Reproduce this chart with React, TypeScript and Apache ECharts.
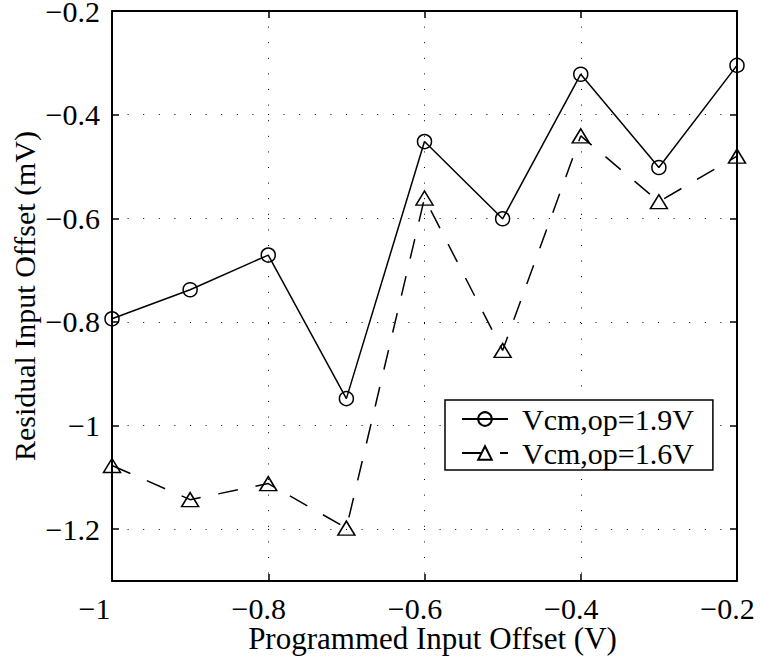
import React, { useEffect, useRef } from "react";
import * as echarts from "echarts";

// Programmed offset (V) and the residual offset (mV) measured at two common-mode levels
const programmedOffset = [-1, -0.9, -0.8, -0.7, -0.6, -0.5, -0.4, -0.3, -0.2];
const residualVcm19 = [-0.794, -0.738, -0.671, -0.948, -0.452, -0.601, -0.322, -0.502, -0.305];
const residualVcm16 = [-1.077, -1.143, -1.112, -1.198, -0.561, -0.855, -0.441, -0.568, -0.48];

const seriesNames = ["Vcm,op=1.9V", "Vcm,op=1.6V"];
const xTicks = [-1, -0.8, -0.6, -0.4, -0.2];
const yTicks = [-1.2, -1, -0.8, -0.6, -0.4, -0.2];

const FONT = "Liberation Serif";

const fmt = (v: number) => {
  const s = String(Math.round(v * 10) / 10);
  return s.replace("-", "\u2212");
};

export default function App() {
  const ref = useRef<HTMLDivElement>(null);

  useEffect(() => {
    if (!ref.current) return;
    const chart = echarts.init(ref.current, undefined, { renderer: "svg" });

    const dotted = { color: "#000", width: 1, type: [1, 14.6] as number[] };
    const frame = { show: true, lineStyle: { color: "#000", width: 2 } };
    const tick = {
      show: true,
      inside: true,
      length: 7,
      lineStyle: { color: "#000", width: 1.5 },
    };

    const xBase = { type: "value" as const, min: -1, max: -0.2, interval: 0.2 };
    const yBase = { type: "value" as const, min: -1.3, max: -0.2, interval: 0.1 };
    const xTickOpt = { ...tick, customValues: xTicks };
    const yTickOpt = { ...tick, customValues: yTicks };

    chart.setOption({
      animation: false,
      backgroundColor: "#fff",
      textStyle: { fontFamily: FONT },
      grid: {
        left: 112,
        right: 23,
        top: 11,
        bottom: 78,
        containLabel: false,
        outerBoundsMode: "none",
      },
      xAxis: [
        {
          ...xBase,
          position: "bottom",
          name: "Programmed Input Offset (V)",
          nameLocation: "middle",
          nameGap: 44,
          nameMoveOverlap: false,
          nameTextStyle: {
            fontSize: 31,
            lineHeight: 26,
            fontFamily: FONT,
            color: "#000",
            padding: [0, 0, 0, 16],
          },
          axisLine: frame,
          axisTick: xTickOpt,
          splitLine: { show: true, lineStyle: dotted },
          axisLabel: {
            fontSize: 30,
            lineHeight: 22,
            fontFamily: FONT,
            color: "#000",
            margin: 16,
            customValues: xTicks,
            formatter: (v: number) =>
              Math.abs(v + 1) < 1e-6 ? "{w|" + fmt(v) + "}" : "{n|" + fmt(v) + "}",
            rich: {
              n: {
                fontSize: 30,
                lineHeight: 22,
                fontFamily: FONT,
                color: "#000",
                padding: [0, 19, 0, 0],
              },
              w: {
                fontSize: 30,
                lineHeight: 22,
                fontFamily: FONT,
                color: "#000",
                padding: [0, 35, 0, 0],
              },
            },
          },
        },
        {
          ...xBase,
          position: "top",
          axisLine: frame,
          axisTick: xTickOpt,
          axisLabel: { show: false },
          splitLine: { show: false },
        },
      ],
      yAxis: [
        {
          ...yBase,
          position: "left",
          name: "Residual Input Offset (mV)",
          nameLocation: "middle",
          nameGap: 75,
          nameMoveOverlap: false,
          nameTextStyle: { fontSize: 30, fontFamily: FONT, color: "#000", lineHeight: 26 },
          axisLine: frame,
          axisTick: yTickOpt,
          splitLine: { show: true, lineStyle: dotted, customValues: yTicks },
          axisLabel: {
            fontSize: 30,
            lineHeight: 20,
            fontFamily: FONT,
            color: "#000",
            margin: 12,
            customValues: yTicks,
            formatter: (v: number) => fmt(v),
          },
        },
        {
          ...yBase,
          position: "right",
          axisLine: frame,
          axisTick: yTickOpt,
          axisLabel: { show: false },
          splitLine: { show: false },
        },
      ],
      legend: {
        orient: "vertical",
        left: 445,
        top: 400,
        padding: [4, 19, 2, 16],
        itemWidth: 46,
        itemHeight: 17,
        itemGap: 4,
        borderColor: "#000",
        borderWidth: 1.5,
        backgroundColor: "#fff",
        textStyle: { fontSize: 30, fontFamily: FONT, color: "#000", padding: [0, 0, 0, 9] },
        data: seriesNames,
      },
      series: [
        {
          name: seriesNames[0],
          type: "line",
          clip: false,
          data: programmedOffset.map((x, i) => [x, residualVcm19[i]]),
          symbol: "circle",
          symbolSize: 14,
          lineStyle: { color: "#000", width: 1.5, type: "solid" },
          itemStyle: { color: "rgba(0,0,0,0)", borderColor: "#000", borderWidth: 1.5 },
        },
        {
          name: seriesNames[1],
          type: "line",
          clip: false,
          data: programmedOffset.map((x, i) => [x, residualVcm16[i]]),
          symbol: "triangle",
          symbolSize: [17, 14],
          lineStyle: { color: "#000", width: 1.5, type: [20, 18] },
          itemStyle: { color: "rgba(0,0,0,0)", borderColor: "#000", borderWidth: 1.5 },
        },
      ],
    });

    return () => chart.dispose();
  }, []);

  return (
    <div
      ref={ref}
      style={{ position: "fixed", left: 0, top: 0, width: 760, height: 659, background: "#fff" }}
    />
  );
}
